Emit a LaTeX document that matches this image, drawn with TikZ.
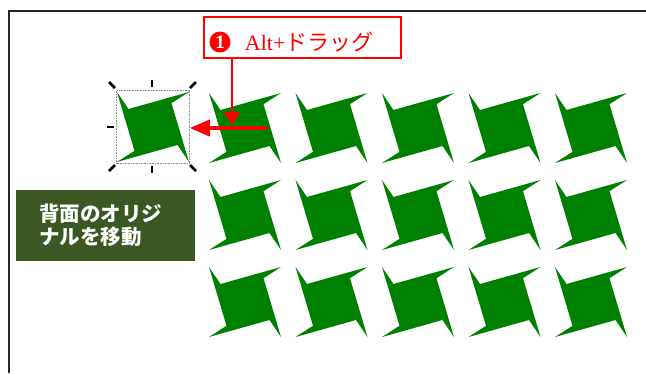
\documentclass[tikz,border=0pt]{standalone}
\usepackage{fontspec}
\setmainfont{Liberation Serif}
\newfontfamily\jpfont{Noto Sans CJK JP}
\usetikzlibrary{positioning,arrows.meta}
\definecolor{leaf}{RGB}{0,128,0}
\definecolor{mossgreen}{RGB}{59,87,36}

\begin{document}
\begin{tikzpicture}[
  x=1pt, y=-1pt,
  pinwheel/.pic={\fill[leaf] (-36,-35) -- (-24.5,-18) -- (36,-35) -- (18.5,-23.8)
                 -- (36,35) -- (24.5,18) -- (-36,35) -- (-18.5,23.8) -- cycle;},
  selbox/.style={draw=black!45, densely dotted, line width=0.6pt,
                 minimum width=73pt, minimum height=73pt, inner sep=0pt},
  handle/.style={line width=2.8pt, black},
  callout/.style={draw=red, line width=2pt, minimum width=197pt,
                  minimum height=41pt, inner sep=0pt},
  numdot/.style={circle, fill=red, text=white, minimum size=21pt, inner sep=0pt,
                 font=\bfseries\fontsize{19}{19}\selectfont},
  redtxt/.style={text=red, inner sep=0pt, font=\fontsize{22}{26}\selectfont},
  note/.style={fill=mossgreen, text=white, minimum width=179pt, minimum height=71pt,
               text width=133pt, inner xsep=23pt, align=left,
               font=\jpfont\bfseries\fontsize{20.5}{23}\selectfont},
  thinarr/.style={-{Triangle[length=13pt, width=16pt]}, red, line width=1.8pt},
  thickarr/.style={-{Triangle[length=20pt, width=16pt]}, red, line width=4pt}
]
\useasboundingbox (0,0) rectangle (646,373);

% screen frame
\draw[line width=2pt, black!85] (9,373) -- (9,11) -- (646,11);

% copies in the back
\foreach \i in {0,...,4}
  \foreach \j in {0,1,2}
    \pic at ({245+86.5*\i},{128+87*\j}) {pinwheel};

% selected original
\pic at (153,127) {pinwheel};
\node[selbox] (orig) at (153,127) {};
\foreach \xa/\ya/\xb/\yb in {109/82/115/88, 196/82/190/88, 109/171/115/165,
                             196/171/190/165, 152/80/152/87, 152/166/152/173,
                             107/127/114/127}
  \draw[handle] (\xa,\ya) -- (\xb,\yb);

% step label
\node[callout] (drag) at (302.5,37.5) {};
\node[numdot] (num) at (220,42) {1};
\node[redtxt, right=14pt of num] (keys) {Alt+{\jpfont ドラッグ}};

\coordinate (drop) at (232,125);
\coordinate (pull) at (267,128);
\draw[thinarr] (drop |- drag.south) -- (drop);
\draw[thickarr] (pull) -- (orig.east |- pull);

\node[note] (move) at (105.5,225.5) {背面のオリジ\\ナルを移動};
\end{tikzpicture}
\end{document}
